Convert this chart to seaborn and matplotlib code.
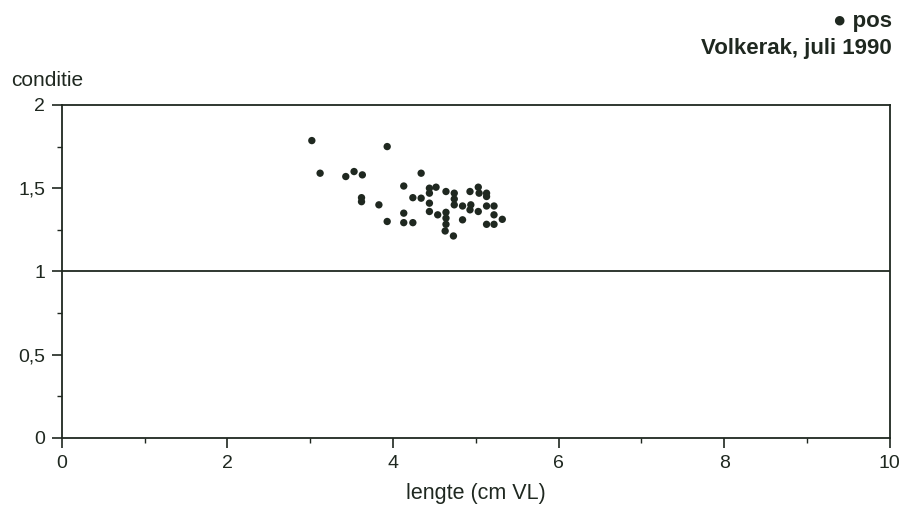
import numpy as np
import pandas as pd
import matplotlib
matplotlib.use('Agg')
import matplotlib.pyplot as plt
import seaborn as sns
from matplotlib.ticker import MultipleLocator, FuncFormatter

# lengte (cm VL) en conditie
lengte = [3.02, 3.93, 3.12, 3.43, 3.53, 3.63, 4.34, 3.62, 3.62, 3.83,
          3.93, 4.13, 4.13, 4.13, 4.24, 4.24, 4.34, 4.44, 4.52, 4.44,
          4.44, 4.44, 4.54, 4.64, 4.64, 4.64, 4.64, 4.63, 4.73, 4.74,
          4.74, 4.74, 4.84, 4.84, 4.94, 4.93, 5.03, 5.04, 5.13, 4.93,
          5.03, 5.13, 5.22, 5.22, 5.32, 5.13, 5.22, 5.13]
conditie = [1.786, 1.75, 1.59, 1.57, 1.60, 1.58, 1.59, 1.443, 1.419, 1.40,
            1.30, 1.513, 1.35, 1.293, 1.293, 1.443, 1.44, 1.50, 1.506, 1.47,
            1.41, 1.36, 1.34, 1.48, 1.355, 1.32, 1.283, 1.243, 1.213, 1.47,
            1.435, 1.40, 1.31, 1.393, 1.40, 1.48, 1.506, 1.47, 1.47, 1.37,
            1.36, 1.393, 1.393, 1.34, 1.313, 1.283, 1.283, 1.45]

df = pd.DataFrame({'lengte': lengte, 'conditie': conditie})

ink = '#1f2820'
sns.set_style('ticks')
plt.rcParams['font.family'] = ['Liberation Sans', 'DejaVu Sans']

fig = plt.figure(figsize=(9.08, 5.17), dpi=100)
ax = fig.add_axes([0.068, 0.153, 0.912, 0.644])

sns.scatterplot(data=df, x='lengte', y='conditie', ax=ax, color=ink,
                s=28, edgecolor='none', legend=False)
ax.axhline(1, color=ink, lw=1.3)

ax.set_xlim(0, 10)
ax.set_ylim(0, 2)
ax.xaxis.set_major_locator(MultipleLocator(2))
ax.xaxis.set_minor_locator(MultipleLocator(1))
ax.yaxis.set_major_locator(MultipleLocator(0.5))
ax.yaxis.set_minor_locator(MultipleLocator(0.25))
ax.yaxis.set_major_formatter(FuncFormatter(lambda v, p: ('%g' % v).replace('.', ',')))

for s in ax.spines.values():
    s.set_color(ink)
    s.set_linewidth(1.3)
ax.tick_params(which='major', direction='out', length=7, width=1.2, color=ink,
               labelsize=14, labelcolor=ink, pad=5)
ax.tick_params(which='minor', direction='out', length=3.5, width=1.0, color=ink)

ax.set_xlabel('lengte (cm VL)', fontsize=15.5, color=ink, labelpad=8)
ax.set_ylabel('')
fig.text(0.012, 1 - 86 / 517, 'conditie', fontsize=15, color=ink,
         ha='left', va='baseline')
fig.text(0.982, 1 - 27 / 517, '\u25cf pos', fontsize=16, fontweight='bold',
         color=ink, ha='right', va='baseline')
fig.text(0.982, 1 - 54 / 517, 'Volkerak, juli 1990', fontsize=16,
         fontweight='bold', color=ink, ha='right', va='baseline')

fig.savefig('out.png', dpi=100)
